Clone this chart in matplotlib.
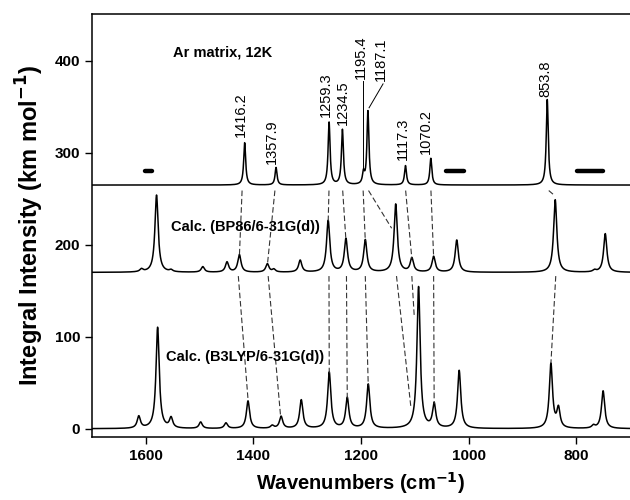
import numpy as np
from matplotlib import pyplot as plt

plt.rcParams['font.family'] = ['Liberation Sans', 'DejaVu Sans']

# experimental (Ar matrix) peaks: position, height above baseline
exp_pos = [1416.2, 1357.9, 1259.3, 1234.5, 1195.4, 1187.1, 1117.3, 1070.2, 853.8]
exp_hgt = [46, 19, 68, 60, 12, 80, 21, 29, 93]
exp_base = 265

# BP86/6-31G(d) calculated peaks
bp_pos = [1608, 1580, 1553, 1494, 1449, 1426, 1374, 1362, 1313, 1261, 1228,
          1192, 1135.5, 1105.5, 1065, 1022, 839, 766, 746]
bp_hgt = [3, 84, 2, 6, 11, 19, 9, 3, 13, 56, 36, 35, 74, 15, 17, 35, 79, 2, 42]
bp_base = 170

# B3LYP/6-31G(d) calculated peaks
b3_pos = [1613, 1578, 1553, 1498, 1451, 1410, 1365, 1348.5, 1311, 1259, 1225.5,
          1186.5, 1093, 1064, 1017.5, 847, 833, 768, 750]
b3_hgt = [13, 110, 11, 7, 6, 30, 3, 13, 31, 61, 33, 48, 154, 26, 63, 70, 21, 3, 41]
b3_base = 0

# blanked regions in the experimental trace
gaps = [(1602, 1588), (1042, 1008), (798, 751)]
gap_y = 280

# peak labels: text, x, bottom of text
lab_txt = ['1416.2', '1357.9', '1259.3', '1234.5', '1195.4', '1187.1', '1117.3', '1070.2', '853.8']
lab_x = [1422.5, 1366, 1265.5, 1233.5, 1200.5, 1163.5, 1122, 1078.5, 856.5]
lab_y = [317, 288, 339, 330, 380, 378, 292, 299, 361]

# correlation lines exp -> BP86: start wn, end wn, end intensity
link1_x0 = [1421, 1360, 1259.5, 1234, 1196, 1186, 1117, 1070, 851]
link1_x1 = [1426, 1374, 1261, 1228, 1192, 1143, 1105.5, 1065, 841]
link1_y1 = [188, 178, 225, 205, 204, 218, 185, 187, 254]

# correlation lines BP86 -> B3LYP
link2_x0 = [1428, 1372.5, 1259.5, 1227, 1192, 1134, 1105.5, 1065, 838]
link2_x1 = [1410, 1349.5, 1259, 1225.5, 1186.5, 1107, 1101, 1064, 847]
link2_y1 = [32, 14, 60, 32, 47, 22, 122, 27, 71]


def spectrum(x, pos, hgt, gam):
    y = np.zeros_like(x)
    for p, h in zip(pos, hgt):
        y += h * gam**2 / ((x - p)**2 + gam**2)
    return y


wn = np.linspace(1700, 700, 8000)

fig = plt.figure(figsize=(6.3, 5.0), dpi=100)
ax = fig.add_axes([0.146, 0.126, 0.854, 0.846])

ax.plot(wn, exp_base + spectrum(wn, exp_pos, exp_hgt, 2.2), color='black', lw=1.1)
ax.plot(wn, bp_base + spectrum(wn, bp_pos, bp_hgt, 3.6), color='black', lw=1.1)
ax.plot(wn, b3_base + spectrum(wn, b3_pos, b3_hgt, 3.6), color='black', lw=1.1)

for a, b in gaps:
    ax.plot([a, b], [gap_y, gap_y], color='black', lw=3.2, solid_capstyle='round')

dash = (0, (5, 2.5))
for x0, x1, y1 in zip(link1_x0, link1_x1, link1_y1):
    ax.plot([x0, x1], [exp_base - 6, y1], color='#333333', lw=0.8, ls=dash)
for x0, x1, y1 in zip(link2_x0, link2_x1, link2_y1):
    ax.plot([x0, x1], [bp_base - 4, y1], color='#333333', lw=0.8, ls=dash)

for t, x, y in zip(lab_txt, lab_x, lab_y):
    ax.text(x, y, t, rotation=90, ha='center', va='bottom', fontsize=10.5)

# leader lines for the two crowded labels
ax.plot([1197, 1197], [378, 283], color='black', lw=0.7)
ax.plot([1159, 1185], [375, 349], color='black', lw=0.7)

ax.text(1550, 409, 'Ar matrix, 12K', fontsize=10.5, fontweight='bold', va='center')
ax.text(1553, 219, 'Calc. (BP86/6-31G(d))', fontsize=10.5, fontweight='bold', va='center')
ax.text(1563, 78, 'Calc. (B3LYP/6-31G(d))', fontsize=10.5, fontweight='bold', va='center')

ax.set_xlim(1700, 700)
ax.set_ylim(-9, 451)
ax.set_xticks([1600, 1400, 1200, 1000, 800])
ax.set_yticks([0, 100, 200, 300, 400])
ax.tick_params(direction='out', length=5, width=1, labelsize=11)
for lbl in ax.get_xticklabels() + ax.get_yticklabels():
    lbl.set_fontweight('bold')
ax.spines['right'].set_visible(False)
for s in ['left', 'top', 'bottom']:
    ax.spines[s].set_linewidth(1.1)

ax.set_xlabel('Wavenumbers (cm$^{\\mathbf{-1}}$)', fontsize=14.5, fontweight='bold', labelpad=5)
ax.set_ylabel('Integral Intensity (km mol$^{\\mathbf{-1}}$)', fontsize=17, fontweight='bold', labelpad=6)

fig.savefig('out.png', dpi=100)
